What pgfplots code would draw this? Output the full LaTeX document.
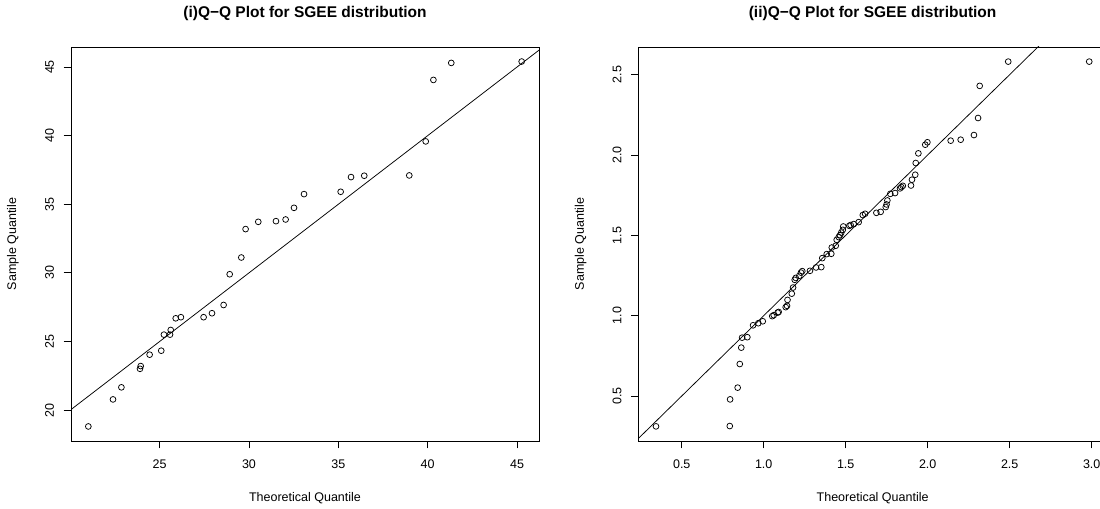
\documentclass[border=0pt]{standalone}
\usepackage{fontspec}
\setmainfont{Liberation Sans}
\usepackage{pgfplots}
\pgfplotsset{compat=1.18}
\newcommand\fs{\fontsize{12.5bp}{15bp}\selectfont}
\newcommand\fst{\fontsize{15.5bp}{18bp}\selectfont}
\pgfplotsset{
  rstyle/.style={
    scale only axis, width=468bp, height=394bp, anchor=south west,
    axis line style={line width=0.8bp},
    tick align=outside, major tick length=7.5bp, tick pos=left,
    every tick/.style={black, line width=0.8bp},
    tick label style={font=\fs},
    /pgf/number format/assume math mode=true,
    yticklabel style={rotate=90, anchor=south},
    xticklabel shift=8bp, yticklabel shift=6bp,
    every axis x label/.style={at={([yshift=-57bp]axis description cs:0.5,0)}, anchor=center, font=\fs},
    every axis y label/.style={at={([xshift=-58bp]axis description cs:0,0.5)}, rotate=90, anchor=center, font=\fs},
    every axis title/.style={at={([yshift=33bp]axis description cs:0.5,1)}, anchor=center, font=\bfseries\fst},
    xlabel={Theoretical Quantile}, ylabel={Sample Quantile},
  },
  pts/.style={only marks, mark=o, mark size=2.9bp, mark options={line width=0.75bp, black}},
  qline/.style={black, line width=0.75bp, no marks},
}
\begin{document}
\begin{tikzpicture}[x=1bp,y=1bp]
\useasboundingbox (0,0) rectangle (1100,509);
\begin{axis}[rstyle, at={(71bp,68bp)},
  xmin=20.04, xmax=46.23, ymin=17.75, ymax=46.46,
  xtick={25,30,35,40,45}, ytick={20,25,30,35,40,45},
  title={(i)Q\textminus Q Plot for SGEE distribution}]
\addplot[pts] coordinates {
(21.01,18.81) (22.39,20.78) (22.86,21.66) (23.90,23.01) (23.94,23.21)
(24.44,24.04) (25.09,24.33) (25.24,25.50) (25.58,25.50) (25.62,25.84)
(25.90,26.69) (26.19,26.77) (27.46,26.77) (27.93,27.06) (28.58,27.66)
(28.92,29.90) (29.57,31.12) (29.81,33.19) (30.52,33.72) (31.51,33.77)
(32.05,33.89) (32.52,34.74) (33.08,35.74) (35.13,35.91) (35.71,36.98)
(36.45,37.08) (38.97,37.10) (39.89,39.58) (40.32,44.06) (41.32,45.30)
(45.26,45.40)};
\addplot[qline] coordinates {(15,15) (50,50)};
\end{axis}
\begin{axis}[rstyle, at={(638.6bp,68bp)},
  xmin=0.237, xmax=3.091, ymin=0.22, ymax=2.672,
  xtick={0.5,1,1.5,2,2.5,3}, ytick={0.5,1,1.5,2,2.5},
  xticklabel style={/pgf/number format/.cd, fixed, fixed zerofill, precision=1},
  yticklabel style={/pgf/number format/.cd, fixed, fixed zerofill, precision=1},
  title={(ii)Q\textminus Q Plot for SGEE distribution}]
\addplot[pts] coordinates {
(0.343,0.311) (0.793,0.313) (0.795,0.479) (0.841,0.552) (0.854,0.699)
(0.863,0.801) (0.868,0.863) (0.900,0.866) (0.935,0.940) (0.967,0.953)
(0.994,0.965) (1.052,0.997) (1.061,1.003) (1.085,1.019) (1.091,1.023)
(1.134,1.053) (1.142,1.061) (1.145,1.098) (1.171,1.137) (1.179,1.175)
(1.189,1.223) (1.195,1.235) (1.217,1.248) (1.227,1.268) (1.235,1.277)
(1.282,1.279) (1.319,1.300) (1.351,1.302) (1.357,1.358) (1.384,1.383)
(1.412,1.385) (1.415,1.424) (1.439,1.435) (1.445,1.472) (1.457,1.489)
(1.465,1.501) (1.473,1.517) (1.482,1.534) (1.485,1.555) (1.522,1.559)
(1.530,1.564) (1.549,1.570) (1.579,1.582) (1.604,1.626) (1.618,1.634)
(1.687,1.640) (1.713,1.646) (1.744,1.676) (1.749,1.692) (1.754,1.717)
(1.772,1.758) (1.801,1.763) (1.831,1.792) (1.839,1.800) (1.848,1.808)
(1.898,1.810) (1.904,1.846) (1.924,1.877) (1.927,1.950) (1.943,2.010)
(1.985,2.064) (1.998,2.079) (2.140,2.089) (2.201,2.095) (2.282,2.124)
(2.307,2.230) (2.317,2.430) (2.491,2.581) (2.985,2.581)};
\addplot[qline] coordinates {(0,0) (4,4)};
\end{axis}
\end{tikzpicture}
\end{document}
